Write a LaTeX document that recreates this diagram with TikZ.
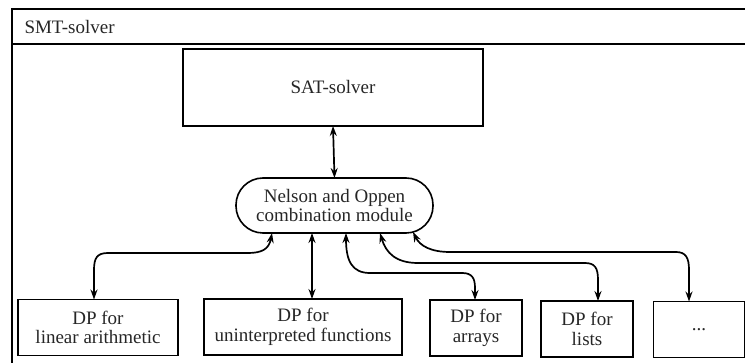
\documentclass[tikz,border=0pt]{standalone}
\usepackage{fontspec}
\setmainfont{Liberation Serif}
\usetikzlibrary{arrows.meta,calc}
\begin{document}
\begin{tikzpicture}[x=1pt,y=-1pt,
  txt/.style={font=\fontsize{19}{19.5}\selectfont, text=black!85},
  box/.style={txt, draw, line width=1.9pt, inner sep=0pt, outer sep=0pt, align=center, minimum height=56pt},
  ovalbox/.style={txt, draw, line width=1.6pt, rounded corners=27pt, inner sep=0pt, outer sep=0pt, align=center, minimum width=197pt, minimum height=55pt},
  conn/.style={line width=1.7pt, {Stealth[length=10pt,width=7pt]}-{Stealth[length=10pt,width=7pt]}},
  frame/.style={line width=2.4pt},
  sep/.style={line width=1.6pt},
]
\useasboundingbox (0,0) rectangle (745,363);
\clip (0,0) rectangle (745,363);

% outer frame
\coordinate (fbl) at (12,370);
\coordinate (ftl) at (12,9);
\coordinate (ftr) at (760,9);
\coordinate (hl) at (12,44);
\coordinate (hr) at (760,44);
\draw[frame] (fbl) -- (ftl) -- (ftr);
\draw[sep] (hl) -- (hr);
\node[txt, anchor=west] (smt) at (21,27) {SMT-solver};

% nodes
\node[box, minimum width=300pt, minimum height=77pt] (sat) at (333,87.5) {SAT-solver};
\node[ovalbox] (nel) at (334.5,205.5) {Nelson and Oppen\\combination module};
\node[box, minimum width=160pt] (lin) at (98,327.5) {DP for\\linear arithmetic};
\node[box, minimum width=198pt] (uni) at (303,327) {DP for\\uninterpreted functions};
\node[box, minimum width=92pt] (arr) at (476,328) {DP for\\arrays};
\node[box, minimum width=92pt] (lis) at (587,329) {DP for\\lists};
\node[box, minimum width=91pt] (dots) at (699,329.5) {...};

% connection points on the oval
\coordinate (n1) at ([xshift=-62.5pt]nel.south);
\coordinate (n2) at ([xshift=-22.5pt]nel.south);
\coordinate (n3) at ([xshift=11.5pt]nel.south);
\coordinate (n4) at ([xshift=45.5pt]nel.south);
\coordinate (n5) at ([xshift=78.5pt,yshift=1pt]nel.south);

% connectors
\draw[conn] (sat.south) -- (nel.north);
\draw[conn] (n1) .. controls ($(n1)+(-3,16)$) and ($(n1)+(-10,20)$) .. ($(n1)+(-24,20)$)
   -- (108,253) .. controls (97,253) and (94,258) .. (94,270) -- (94,0 |- lin.north);
\draw[conn] (n2) -- (n2 |- uni.north);
\draw[conn] (n3) .. controls ($(n3)+(0,28)$) and ($(n3)+(6,40)$) .. ($(n3)+(24,40)$)
   -- (462,273) .. controls (472,273) and (475,278) .. (475,288) -- (475,0 |- arr.north);
\draw[conn] (n4) .. controls ($(n4)+(6,20)$) and ($(n4)+(16,30)$) .. ($(n4)+(38,30)$)
   -- (585,263) .. controls (595,263) and (598,268) .. (598,280) -- (598,0 |- lis.north);
\draw[conn] (n5) .. controls ($(n5)+(7,14)$) and ($(n5)+(18,20)$) .. ($(n5)+(37,20)$)
   -- (676,252) .. controls (686,252) and (689,258) .. (689,270) -- (689,0 |- dots.north);
\end{tikzpicture}
\end{document}
